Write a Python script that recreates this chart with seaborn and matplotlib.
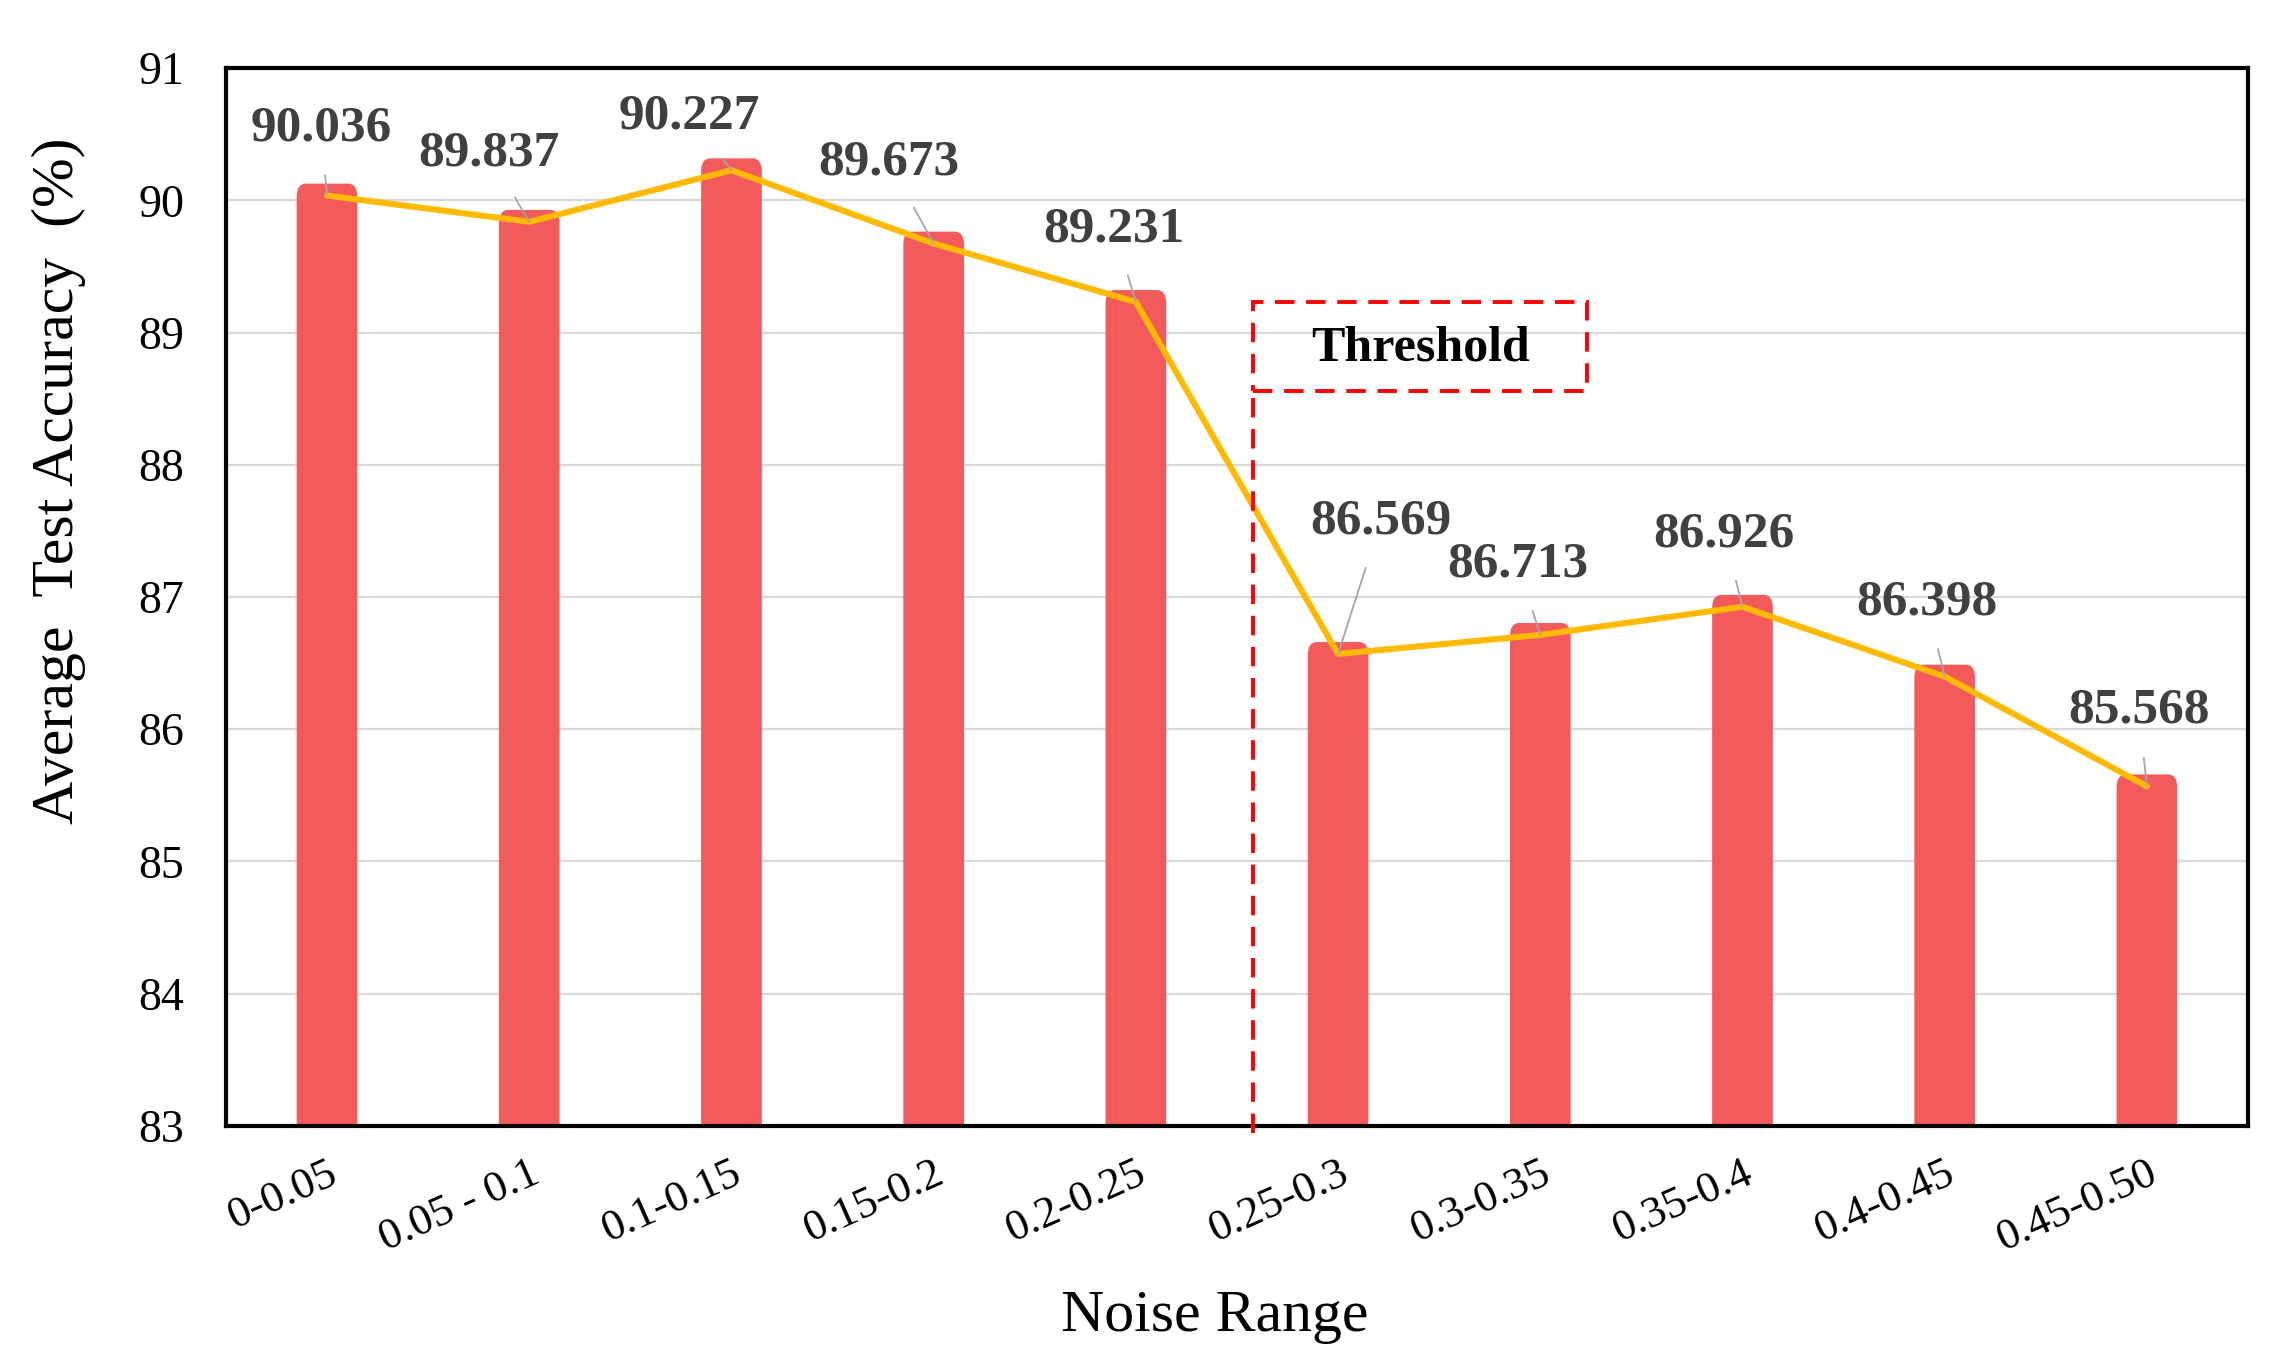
import matplotlib
matplotlib.use("Agg")
import matplotlib.pyplot as plt
import numpy as np
import pandas as pd
import seaborn as sns
from matplotlib.patches import FancyBboxPatch, Rectangle

# data
noise_ranges = ["0-0.05", "0.05 - 0.1", "0.1-0.15", "0.15-0.2", "0.2-0.25",
                "0.25-0.3", "0.3-0.35", "0.35-0.4", "0.4-0.45", "0.45-0.50"]
accuracy = [90.036, 89.837, 90.227, 89.673, 89.231,
            86.569, 86.713, 86.926, 86.398, 85.568]
y_ticks = [83, 84, 85, 86, 87, 88, 89, 90, 91]
# label offsets (x, y) relative to each point, in data units
label_dx = [-0.03, -0.20, -0.21, -0.22, -0.11, 0.21, -0.11, -0.09, -0.09, -0.04]
label_dy = [0.51, 0.52, 0.41, 0.61, 0.55, 1.00, 0.53, 0.55, 0.56, 0.57]

BAR_COLOR = "#F25A5B"
LINE_COLOR = "#FFBA00"
FONT = ["Liberation Serif", "DejaVu Serif"]

sns.set_theme(style="white")
plt.rcParams["font.family"] = FONT
plt.rcParams["font.serif"] = FONT

df = pd.DataFrame({"range": noise_ranges, "acc": accuracy})

fig = plt.figure(figsize=(22.73, 13.5), dpi=100)
ax = fig.add_axes([0.0994, 0.166, 0.8896, 0.7836])

sns.barplot(data=df, x="range", y="acc", color=BAR_COLOR, width=0.3,
            saturation=1, ax=ax, zorder=2)

# replace plain bars by bars with a rounded cap
cap = 0.09
for p in list(ax.patches):
    x0, w, h = p.get_x(), p.get_width(), p.get_height()
    rb = FancyBboxPatch((x0, 0), w, h + cap,
                        boxstyle="round,pad=0,rounding_size=0.045",
                        mutation_aspect=2.2, facecolor=BAR_COLOR,
                        edgecolor="none", zorder=2)
    p.remove()
    ax.add_patch(rb)

sns.lineplot(x=np.arange(len(accuracy)), y=accuracy, color=LINE_COLOR,
             linewidth=4.4, ax=ax, zorder=3)

# value labels with leader lines
for i, v in enumerate(accuracy):
    ax.annotate(f"{v:.3f}", xy=(i, v), xytext=(i + label_dx[i], v + label_dy[i]),
                ha="center", va="center", fontsize=37, fontweight="bold",
                color="#404040", family=FONT, zorder=5,
                arrowprops=dict(arrowstyle="-", color="#A6A6A6", lw=1.3,
                                shrinkA=15, shrinkB=0))

ax.set_xlim(-0.5, len(noise_ranges) - 0.5)
ax.set_ylim(83, 91)
ax.set_yticks(y_ticks)
ax.yaxis.grid(True, color="#D9D9D9", linewidth=1.6, zorder=0)
ax.xaxis.grid(False)
ax.set_axisbelow(True)

for s in ax.spines.values():
    s.set_color("black")
    s.set_linewidth(3)

ax.tick_params(axis="y", length=0, pad=30, labelsize=33, labelcolor="black")
ax.tick_params(axis="x", length=0, pad=20, labelsize=32, labelcolor="black")
for t in ax.get_yticklabels():
    t.set_fontfamily(FONT)
plt.setp(ax.get_xticklabels(), rotation=24, ha="right", rotation_mode="anchor",
         fontfamily=FONT)

ax.set_xlabel("Noise Range", fontsize=43, color="black", family=FONT)
ax.xaxis.set_label_coords(0.489, -0.155)
ax.set_ylabel("Average  Test Accuracy  (%)", fontsize=43, color="black", family=FONT)
ax.yaxis.set_label_coords(-0.069, 0.61)

# threshold marker
thr_x = 4.58
ax.plot([thr_x, thr_x], [82.95, 88.56], color="#FF0000", lw=2.8,
        dashes=(5, 3), clip_on=False, zorder=4)
ax.add_patch(Rectangle((thr_x, 88.56), 1.65, 0.67, fill=False, edgecolor="#FF0000",
                       lw=2.8, linestyle=(0, (5, 3)), zorder=4))
ax.text(thr_x + 0.83, 88.88, "Threshold", ha="center", va="center",
        fontsize=36, fontweight="bold", color="black", family=FONT, zorder=5)

fig.savefig("out.png", dpi=100)
plt.close(fig)
